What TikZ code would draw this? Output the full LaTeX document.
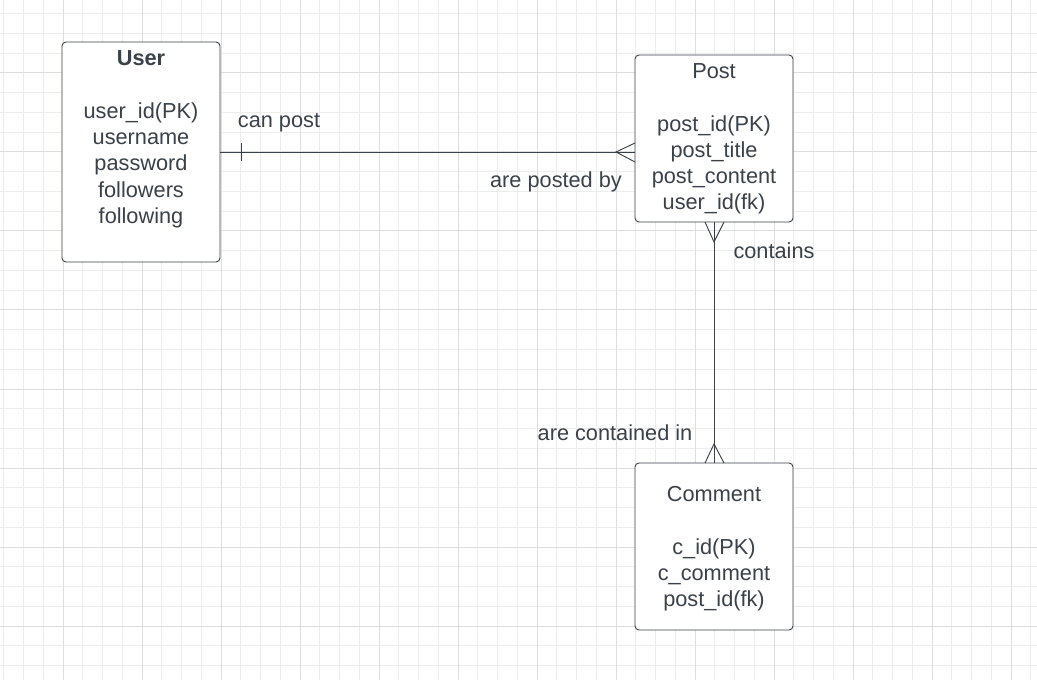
\documentclass[tikz,border=0pt]{standalone}
\usepackage{fontspec}
\setmainfont{Liberation Sans}
\definecolor{ink}{HTML}{3A414A}
\definecolor{minorline}{HTML}{EDEDED}
\definecolor{majorline}{HTML}{DEDEDE}
\tikzset{
  entity/.style={draw=ink, line width=0.7pt, rounded corners=3pt, minimum width=118.5pt, fill=white},
  fields/.style={align=center, text=ink, font=\fontsize{16.3}{19.7}\selectfont},
  relname/.style={text=ink, font=\fontsize{16.3}{19.7}\selectfont, inner sep=0pt},
  rel/.style={draw=ink, line width=0.7pt}
}
\begin{document}
\begin{tikzpicture}[x=0.75pt, y=-0.75pt]
\useasboundingbox (0,0) rectangle (1037,680);
% grid
\foreach \i in {0,...,52} \draw[minorline, line width=0.75pt] (3.75+19.75*\i,0)--(3.75+19.75*\i,680);
\foreach \i in {0,...,33} \draw[minorline, line width=0.75pt] (0,13.75+19.75*\i)--(1037,13.75+19.75*\i);
\foreach \i in {0,...,12} \draw[majorline, line width=0.75pt] (63+79*\i,0)--(63+79*\i,680);
\foreach \i in {0,...,7} \draw[majorline, line width=0.75pt] (0,73+79*\i)--(1037,73+79*\i);
% boxes
\node[entity, minimum height=165pt] (user) at (141,152) {};
\node[fields] (userfields) at (141,139.5) {\textbf{User}\\ \\ user\_id(PK)\\ username\\ password\\ followers\\ following};
\node[entity, minimum height=125.25pt] (post) at (714,138.5) {};
\node[fields] (postfields) at (714,139) {Post\\ \\ post\_id(PK)\\ post\_title\\ post\_content\\ user\_id(fk)};
\node[entity, minimum height=125.25pt] (comment) at (714,546.5) {};
\node[fields] (commentfields) at (714,549) {Comment\\ \\ c\_id(PK)\\ c\_comment\\ post\_id(fk)};
% user -- post
\coordinate (postin) at (635,152);
\draw[rel] (user.east)--(postin);
\draw[rel] (241,143)--(241,161);
\draw[rel] (635,143)--(616,152)--(635,162);
\node[relname] (canpost) at (279,122.5) {can post};
\node[relname] (postedby) at (556,182) {are posted by};
% post -- comment
\draw[rel] (post.south)--(comment.north);
\draw[rel] (705,222)--(714,242)--(724,222);
\draw[rel] (705,463)--(714,444)--(724,463);
\node[relname] (contains) at (774,251) {contains};
\node[relname] (containedin) at (615,432.5) {are contained in};
\end{tikzpicture}
\end{document}
